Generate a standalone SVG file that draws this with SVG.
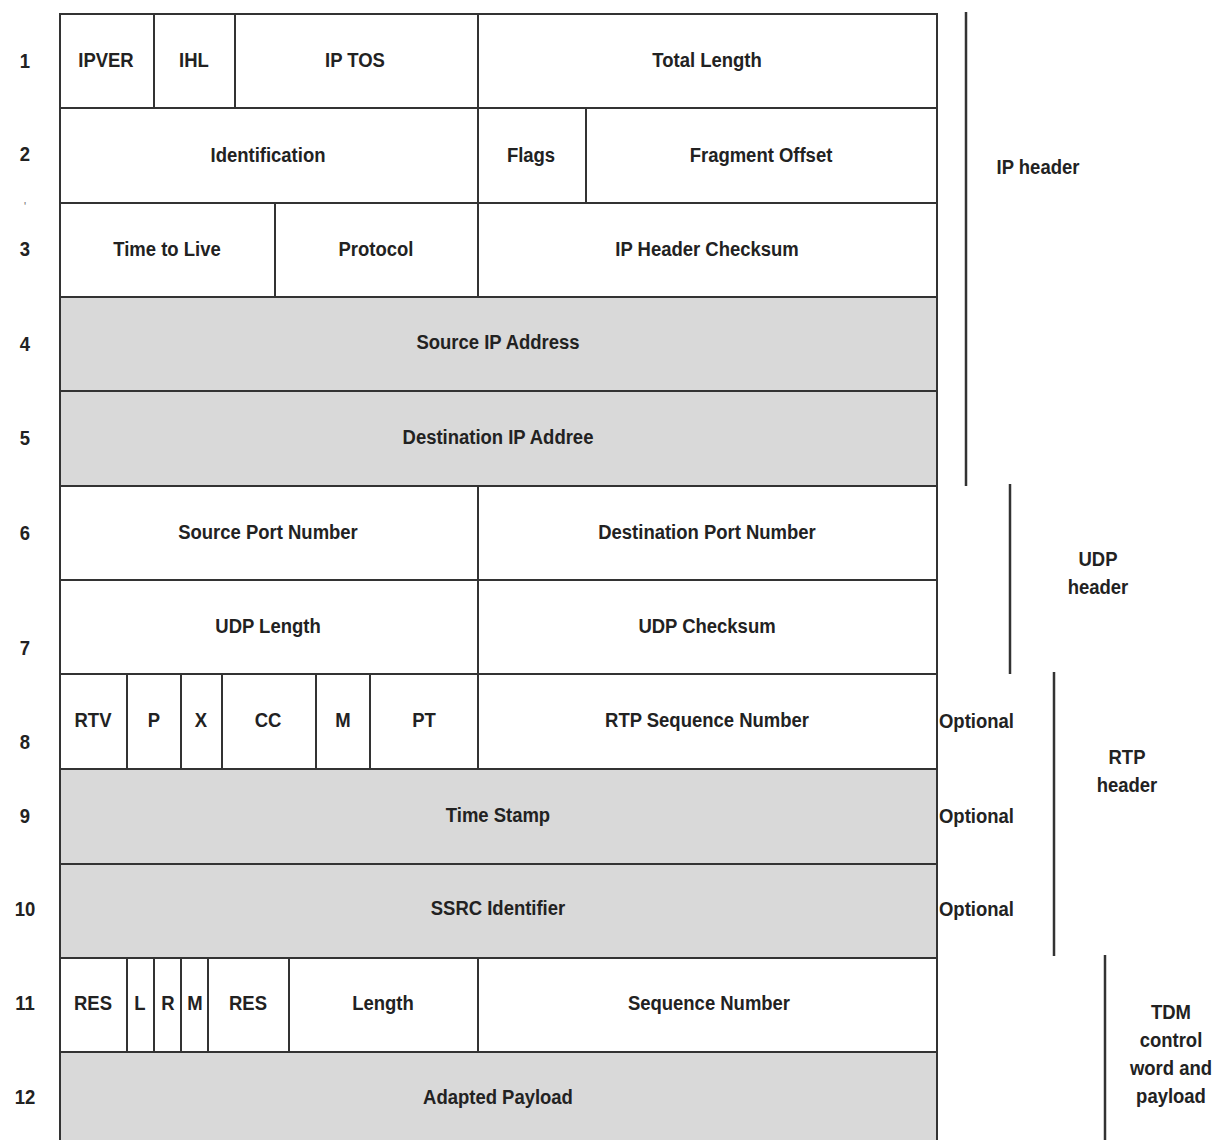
<svg xmlns="http://www.w3.org/2000/svg" width="1222" height="1140" viewBox="0 0 1222 1140">
<style>
text{font-family:"Liberation Sans",Arial,sans-serif;font-weight:bold;font-size:21px;fill:#222;text-anchor:middle;dominant-baseline:central}
.l{text-anchor:start}
.w{fill:#fff;stroke:#333;stroke-width:2}
.g{fill:#d9d9d9;stroke:#333;stroke-width:2}
.s{stroke:#333;stroke-width:2;fill:none}
.b{stroke:#333;stroke-width:2.5;fill:none}
</style>
<rect width="1222" height="1140" fill="#fff"/>
<g id="row1"><rect class="w" x="60" y="14" width="877" height="94"/>
<path class="s" d="M154 14V108M235 14V108M478 14V108"/>
<g transform="scale(0.88 1)"><text x="120.45" y="60">IPVER</text><text x="220.45" y="60">IHL</text><text x="403.41" y="60">IP TOS</text><text x="803.41" y="60">Total Length</text></g></g>
<g id="row2"><rect class="w" x="60" y="108" width="877" height="95"/>
<path class="s" d="M478 108V203M586 108V203"/>
<g transform="scale(0.88 1)"><text x="304.55" y="155">Identification</text><text x="603.41" y="155">Flags</text><text x="864.77" y="155">Fragment Offset</text></g></g>
<g id="row3"><rect class="w" x="60" y="203" width="877" height="94"/>
<path class="s" d="M275 203V297M478 203V297"/>
<g transform="scale(0.88 1)"><text x="189.77" y="249">Time to Live</text><text x="427.27" y="249">Protocol</text><text x="803.41" y="249">IP Header Checksum</text></g></g>
<g id="row4"><rect class="g" x="60" y="297" width="877" height="94"/><g transform="scale(0.88 1)"><text x="565.91" y="342">Source IP Address</text></g></g>
<g id="row5"><rect class="g" x="60" y="391" width="877" height="95"/><g transform="scale(0.88 1)"><text x="565.91" y="437">Destination IP Addree</text></g></g>
<g id="row6"><rect class="w" x="60" y="486" width="877" height="94"/>
<path class="s" d="M478 486V580"/>
<g transform="scale(0.88 1)"><text x="304.55" y="532">Source Port Number</text><text x="803.41" y="532">Destination Port Number</text></g></g>
<g id="row7"><rect class="w" x="60" y="580" width="877" height="94"/>
<path class="s" d="M478 580V674"/>
<g transform="scale(0.88 1)"><text x="304.55" y="626">UDP Length</text><text x="803.41" y="626">UDP Checksum</text></g></g>
<g id="row8"><rect class="w" x="60" y="674" width="877" height="95"/>
<path class="s" d="M127 674V769M181 674V769M222 674V769M316 674V769M370 674V769M478 674V769"/>
<g transform="scale(0.88 1)"><text x="105.68" y="720">RTV</text><text x="175" y="720">P</text><text x="228.41" y="720">X</text><text x="304.55" y="720">CC</text><text x="389.77" y="720">M</text><text x="481.82" y="720">PT</text><text x="803.41" y="720">RTP Sequence Number</text></g></g>
<g id="row9"><rect class="g" x="60" y="769" width="877" height="95"/><g transform="scale(0.88 1)"><text x="565.91" y="815">Time Stamp</text></g></g>
<g id="row10"><rect class="g" x="60" y="864" width="877" height="94"/><g transform="scale(0.88 1)"><text x="565.91" y="908">SSRC Identifier</text></g></g>
<g id="row11"><rect class="w" x="60" y="958" width="877" height="94"/>
<path class="s" d="M127 958V1052M154 958V1052M181 958V1052M208 958V1052M289 958V1052M478 958V1052"/>
<g transform="scale(0.88 1)"><text x="105.68" y="1003">RES</text><text x="159.09" y="1003">L</text><text x="190.91" y="1003">R</text><text x="221.59" y="1003">M</text><text x="281.82" y="1003">RES</text><text x="435.23" y="1003">Length</text><text x="805.68" y="1003">Sequence Number</text></g></g>
<g id="row12"><rect class="g" x="60" y="1052" width="877" height="100"/><g transform="scale(0.88 1)"><text x="565.91" y="1097">Adapted Payload</text></g></g>
<g id="row-numbers" transform="scale(0.88 1)">
<text x="28.41" y="61">1</text><text x="28.41" y="154">2</text><text x="28.41" y="206" style="font-size:10px;fill:#888">'</text>
<text x="28.41" y="249">3</text><text x="28.41" y="344">4</text><text x="28.41" y="438">5</text>
<text x="28.41" y="533">6</text><text x="28.41" y="648">7</text><text x="28.41" y="742">8</text>
<text x="28.41" y="816">9</text><text x="28.41" y="909">10</text><text x="28.41" y="1003">11</text><text x="28.41" y="1097">12</text>
</g>
<g id="optional" transform="scale(0.88 1)">
<text class="l" x="1067.05" y="721">Optional</text><text class="l" x="1067.05" y="816">Optional</text><text class="l" x="1067.05" y="909">Optional</text>
</g>
<g id="connectors">
<path class="b" d="M966 12V486"/>
<path class="b" d="M1010 484V674"/>
<path class="b" d="M1054 672V956"/>
<path class="b" d="M1105 955V1140"/>
</g>
<g id="ip-header" transform="scale(0.88 1)"><text x="1179.55" y="167">IP header</text></g>
<g id="udp-header" transform="scale(0.88 1)"><text x="1247.73" y="559">UDP</text><text x="1247.73" y="587">header</text></g>
<g id="rtp-header" transform="scale(0.88 1)"><text x="1280.68" y="757">RTP</text><text x="1280.68" y="785">header</text></g>
<g id="tdm" transform="scale(0.88 1)"><text x="1330.68" y="1012">TDM</text><text x="1330.68" y="1040">control</text><text x="1330.68" y="1068">word and</text><text x="1330.68" y="1096">payload</text></g>
</svg>
